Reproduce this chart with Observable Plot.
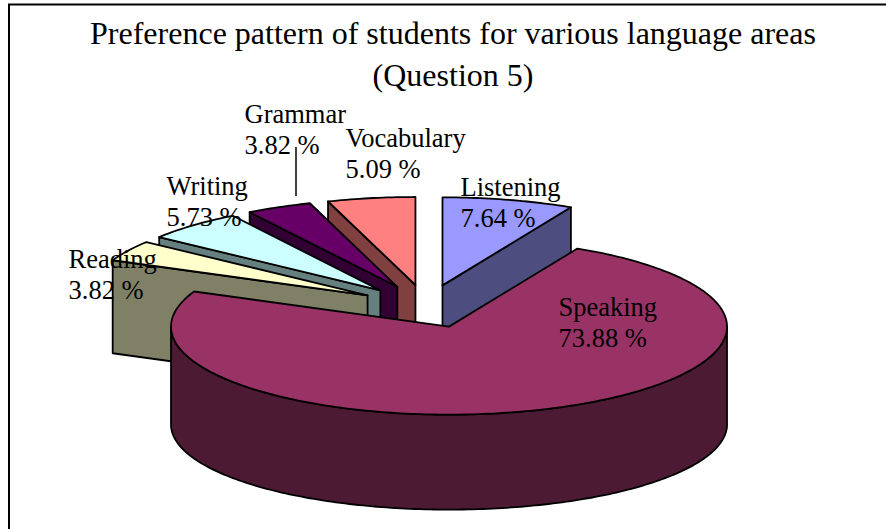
<!DOCTYPE html>
<html>
<head>
<meta charset="utf-8">
<script src="https://cdn.jsdelivr.net/npm/d3@7"></script>
<script src="https://cdn.jsdelivr.net/npm/@observablehq/plot@0.6"></script>
<style>html,body{margin:0;padding:0;background:#fff;overflow:hidden}svg{display:block}</style>
</head>
<body>
<div id="chart"></div>
<script>
// Data (clockwise from 12 o'clock)
const categories = ["Listening", "Speaking", "Reading", "Writing", "Grammar", "Vocabulary"];
const percents = [7.64, 73.88, 3.82, 5.73, 3.82, 5.09];
const titleLines = ["Preference pattern of students for various language areas", "(Question 5)"];

// Styles
const topColors = ["#9999FF", "#993366", "#FFFFCC", "#CCFFFF", "#660066", "#FF8080"];
const wallColors = ["#4D4D80", "#4D1A33", "#808066", "#668080", "#330033", "#804040"];
const paintOrder = ["Vocabulary", "Grammar", "Writing", "Reading", "Listening", "Speaking"];

// Layout of the projected pie
const W = 886, H = 529;
const pie = {cx: 425.8, cy: 305.8, a: 278, b: 88, depth: 93, rimDepth: 98, rimScale: 0.966, explode: 0.245};
const labelX = {Listening: 460, Speaking: 558, Reading: 68, Writing: 166, Grammar: 244, Vocabulary: 345};
const labelY = {Listening: 174, Speaking: 294, Reading: 246, Writing: 173, Grammar: 101, Vocabulary: 125};

// Slices computed from the values
const total = d3.sum(percents);
let running = 0;
const slices = categories.map((name, i) => {
  const start = running / total * 360;
  running += percents[i];
  return {name, start, end: running / total * 360, top: topColors[i], wall: wallColors[i]};
});
const rad = d => d * Math.PI / 180;
function project(s, angle, r, dz, scale = 1) {
  const mid = rad((s.start + s.end) / 2), t = rad(angle);
  return {
    x: pie.cx + pie.a * (pie.explode * Math.sin(mid) + r * Math.sin(t)),
    y: pie.cy - pie.b * (pie.explode * Math.cos(mid) + scale * r * Math.cos(t)) + dz
  };
}
function arc(s, a0, a1, dz, scale = 1) {
  const n = Math.max(2, Math.ceil(Math.abs(a1 - a0)));
  return d3.range(n + 1).map(i => project(s, a0 + (a1 - a0) * i / n, 1, dz, scale));
}
const pieces = [];
let pieceId = 0;
function addPiece(points, fill) {
  const z = pieceId++;
  const closed = [...points, points[0]];
  closed.forEach(p => pieces.push({...p, z, fill}));
}
for (const name of paintOrder) {
  const s = slices.find(d => d.name === name);
  const wall = (angle) => addPiece([project(s, angle, 0, 0), project(s, angle, 1, 0), project(s, angle, 1, pie.depth), project(s, angle, 0, pie.depth)], s.wall);
  if (Math.sin(rad(s.start)) < -1e-6) wall(s.start);
  if (Math.sin(rad(s.end)) > 1e-6) wall(s.end);
  const a0 = Math.max(s.start, 90), a1 = Math.min(s.end, 270);
  if (a1 > a0) addPiece([...arc(s, a0, a1, 0), ...arc(s, a1, a0, pie.rimDepth, pie.rimScale)], s.wall);
  addPiece([project(s, s.start, 0, 0), ...arc(s, s.start, s.end, 0)], s.top);
}
const labels = slices.map((s, i) => ({
  x: labelX[s.name], y: labelY[s.name],
  text: `${s.name}\n${percents[i].toFixed(2)} %`
}));

const serif = "'Liberation Serif','Times New Roman',serif";
const chart = Plot.plot({
  width: W, height: H, margin: 0,
  x: {domain: [0, W], range: [0, W], axis: null},
  y: {domain: [0, H], range: [0, H], axis: null},
  marks: [
    Plot.ruleX([8.5], {y1: 4, y2: H, stroke: "black", strokeWidth: 2}),
    Plot.ruleY([4], {x1: 8, x2: W, stroke: "black", strokeWidth: 2}),
    Plot.line(pieces, {x: "x", y: "y", z: "z", fill: "fill", stroke: "black", strokeWidth: 1.8, curve: "linear", strokeLinejoin: "round"}),
    Plot.ruleX([295.5], {y1: 147, y2: 196, stroke: "black", strokeWidth: 1.5}),
    Plot.text(labels, {x: "x", y: "y", text: "text", textAnchor: "start", lineAnchor: "top", fontFamily: serif, fontSize: 26.5, lineHeight: 1.16, fill: "black"}),
    Plot.text(titleLines, {x: () => 452.5, y: (d, i) => [33, 75][i], text: d => d, textAnchor: "middle", fontFamily: serif, fontSize: 32, fill: "black"})
  ]
});
document.getElementById("chart").append(chart);
</script>
</body>
</html>
